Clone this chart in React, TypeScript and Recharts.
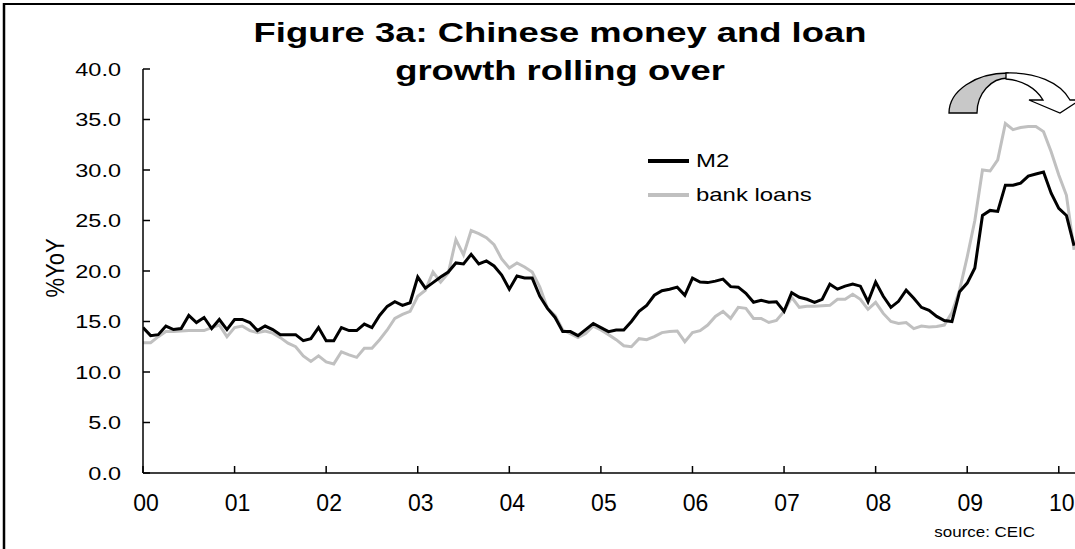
import React from 'react';
import { LineChart, Line, XAxis, YAxis, Legend } from 'recharts';

const FONT = '"Liberation Sans", Arial, Helvetica, sans-serif';

// Monthly YoY growth, Jan 2000 .. Mar 2010
const M2 = [
  14.4, 13.6, 13.7, 14.55, 14.2, 14.3, 15.6, 14.9, 15.4, 14.3, 15.2, 14.2,
  15.2, 15.2, 14.9, 14.1, 14.55, 14.2, 13.7, 13.7, 13.7, 13.1, 13.3, 14.4,
  13.1, 13.1, 14.4, 14.1, 14.1, 14.75, 14.4, 15.6, 16.5, 16.96, 16.6, 16.86,
  19.4, 18.3, 18.85, 19.4, 19.9, 20.8, 20.7, 21.65, 20.7, 21.0, 20.5, 19.6,
  18.2, 19.5, 19.3, 19.3, 17.5, 16.3, 15.4, 14.0, 14.0, 13.6, 14.2, 14.8,
  14.4, 14.0, 14.16, 14.16, 15.0, 16.0, 16.6, 17.6, 18.05, 18.2, 18.4, 17.6,
  19.3, 18.9, 18.85, 19.0, 19.2, 18.45, 18.4, 17.8, 16.9, 17.1, 16.9, 16.96,
  16.0, 17.85, 17.4, 17.2, 16.9, 17.2, 18.7, 18.2, 18.5, 18.7, 18.5, 16.96,
  18.9, 17.5, 16.4, 17.0, 18.1, 17.3, 16.4, 16.1, 15.5, 15.1, 15.0, 17.95,
  18.8, 20.3, 25.5, 26.0, 25.9, 28.5, 28.5, 28.7, 29.4, 29.6, 29.8, 27.7,
  26.2, 25.5, 22.5,
];

const LOANS = [
  12.9, 12.9, 13.5, 14.0, 14.0, 14.05, 14.1, 14.1, 14.1, 14.4, 14.65, 13.5,
  14.4, 14.55, 14.1, 13.9, 14.06, 13.85, 13.4, 12.85, 12.5, 11.6, 11.05, 11.6,
  11.0, 10.8, 12.0, 11.7, 11.45, 12.35, 12.35, 13.2, 14.16, 15.3, 15.7, 16.0,
  17.5, 18.1, 19.9, 18.9, 19.8, 23.1, 21.6, 24.0, 23.7, 23.3, 22.6, 21.2,
  20.3, 20.8, 20.4, 19.9, 18.4, 16.3, 15.6, 14.16, 13.8, 13.4, 13.8, 14.55,
  14.16, 13.7, 13.2, 12.6, 12.5, 13.3, 13.2, 13.5, 13.9, 14.0, 14.06, 13.0,
  13.9, 14.1, 14.65, 15.5, 16.0, 15.3, 16.4, 16.3, 15.3, 15.3, 14.9, 15.1,
  16.0, 17.4, 16.4, 16.5, 16.5, 16.55, 16.6, 17.2, 17.2, 17.7, 17.2, 16.2,
  16.9, 15.8, 15.0, 14.8, 14.9, 14.3, 14.55, 14.45, 14.5, 14.65, 15.9, 18.1,
  21.4, 25.0, 30.0, 29.9, 31.0, 34.6, 34.0, 34.2, 34.3, 34.3, 33.8, 31.8,
  29.5, 27.5, 22.1,
];

const X_TICKS = [0, 12, 24, 36, 48, 60, 72, 84, 96, 108, 120];
const X_TICK_LABELS = ['00', '01', '02', '03', '04', '05', '06', '07', '08', '09', '10'];
const Y_TICKS = [0, 5, 10, 15, 20, 25, 30, 35, 40];
const LEGEND_ORDER = ['M2', 'bank loans'];

const TITLE_LINES = ['Figure 3a: Chinese money and loan', 'growth rolling over'];
const Y_LABEL = '%YoY';
const SOURCE = 'source: CEIC';

const data = M2.map((v, i) => ({ t: i, m2: v, loans: LOANS[i] }));

const YTick = (props: any) => {
  const { x, y, payload } = props;
  return (
    <text
      transform={`translate(${x},${y}) scale(1.27,1)`}
      textAnchor="end"
      dy="0.36em"
      fontSize={18.5}
      fontFamily={FONT}
      fill="#000"
    >
      {Number(payload.value).toFixed(1)}
    </text>
  );
};

const XTick = (props: any) => {
  const { x, y, payload } = props;
  const idx = X_TICKS.indexOf(payload.value);
  return (
    <text x={x + 3} y={y} dy={17} textAnchor="middle" fontSize={23} fontFamily={FONT} fill="#000">
      {X_TICK_LABELS[idx]}
    </text>
  );
};

const renderLegend = (props: any) => {
  const items = [...(props.payload || [])].sort(
    (a: any, b: any) => LEGEND_ORDER.indexOf(a.value) - LEGEND_ORDER.indexOf(b.value)
  );
  return (
    <svg width={200} height={75} style={{ display: 'block' }}>
      {items.map((it: any, k: number) => {
        const y = 21 + k * 34;
        return (
          <g key={k}>
            <line x1={8} x2={49} y1={y} y2={y} stroke={it.color} strokeWidth={4} />
            <text
              transform={`translate(56,${y}) scale(1.33,1)`}
              dy="0.36em"
              fontSize={18}
              fontFamily={FONT}
              fill="#000"
            >
              {it.value}
            </text>
          </g>
        );
      })}
    </svg>
  );
};

export default function App() {
  return (
    <div
      style={{
        position: 'absolute',
        left: 0,
        top: 0,
        width: 1075,
        height: 549,
        overflow: 'hidden',
        background: '#fff',
      }}
    >
      <LineChart width={1100} height={549} data={data} margin={{ top: 69, right: 0, bottom: 0, left: 0 }}>
        <XAxis
          dataKey="t"
          type="number"
          domain={[0, 125.4]}
          ticks={X_TICKS}
          interval={0}
          height={76}
          tickSize={-7}
          tickMargin={28}
          tick={<XTick />}
          axisLine={{ stroke: '#000', strokeWidth: 1.5 }}
          tickLine={{ stroke: '#000', strokeWidth: 1.5 }}
          allowDataOverflow
        />
        <YAxis
          type="number"
          domain={[0, 40]}
          ticks={Y_TICKS}
          interval={0}
          width={143}
          tickSize={-7}
          tickMargin={29}
          tick={<YTick />}
          axisLine={{ stroke: '#000', strokeWidth: 1.5 }}
          tickLine={{ stroke: '#000', strokeWidth: 1.5 }}
        />
        <Line
          type="linear"
          dataKey="loans"
          name="bank loans"
          stroke="#c0c0c0"
          strokeWidth={3}
          dot={false}
          isAnimationActive={false}
        />
        <Line
          type="linear"
          dataKey="m2"
          name="M2"
          stroke="#000"
          strokeWidth={3}
          dot={false}
          isAnimationActive={false}
        />
        <Legend
          layout="vertical"
          align="center"
          verticalAlign="middle"
          content={renderLegend}
          wrapperStyle={{ left: 640, top: 140, width: 200, height: 75 }}
        />
      </LineChart>
      <svg
        width={1075}
        height={549}
        style={{ position: 'absolute', left: 0, top: 0, pointerEvents: 'none' }}
      >
        <line x1={4} y1={3} x2={4} y2={549} stroke="#000" strokeWidth={2.5} />
        <line x1={3} y1={4} x2={1075} y2={4} stroke="#000" strokeWidth={2} />
        {TITLE_LINES.map((t, k) => (
          <text
            key={k}
            transform={`translate(560,${42 + k * 38}) scale(1.3,1)`}
            textAnchor="middle"
            fontSize={28}
            fontWeight="bold"
            fontFamily={FONT}
            fill="#000"
          >
            {t}
          </text>
        ))}
        <text
          transform="translate(54,268) scale(1.2,1) rotate(-90)"
          textAnchor="middle"
          dy="0.36em"
          fontSize={22}
          fontFamily={FONT}
          fill="#000"
        >
          {Y_LABEL}
        </text>
        <text
          transform="translate(1035,537) scale(1.1,1)"
          textAnchor="end"
          fontSize={15.4}
          fontFamily={FONT}
          fill="#000"
        >
          {SOURCE}
        </text>
        <path
          d="M 949 113 A 59 40 0 0 1 1008 73 L 1008 78 A 31 35 0 0 0 977 113 Z"
          fill="#c8c8c8"
          stroke="#000"
          strokeWidth={1.3}
        />
        <path
          d="M 1006 73 C 1035 72, 1060 82, 1070 100 L 1080 100 L 1060 113 L 1029 100 L 1043 100 C 1036 88, 1022 80, 1006 79 Z"
          fill="#fff"
          stroke="#000"
          strokeWidth={1.3}
        />
      </svg>
    </div>
  );
}
